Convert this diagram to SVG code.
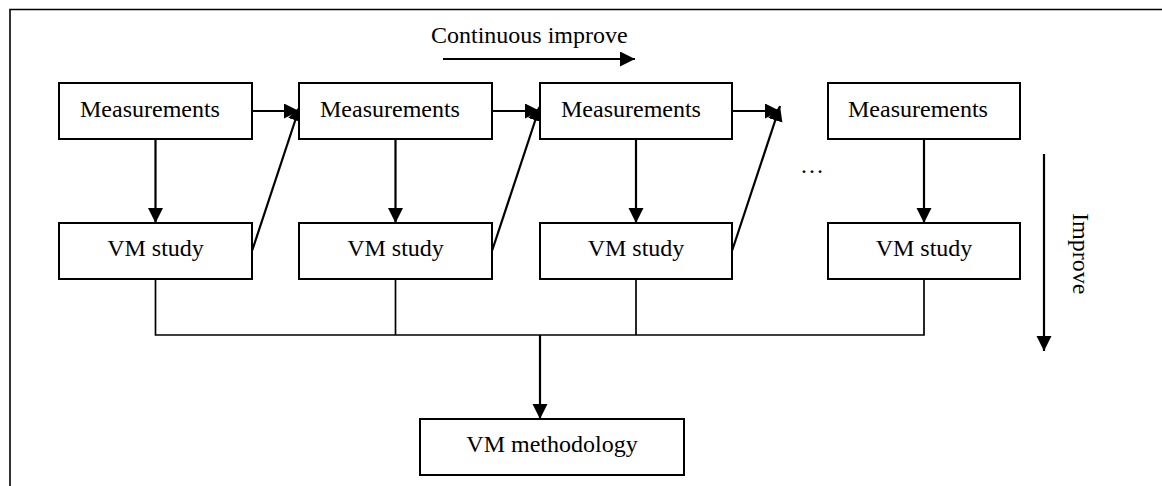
<svg xmlns="http://www.w3.org/2000/svg" width="1162" height="486" viewBox="0 0 1162 486">
  <style>
    .box { fill: #fff; stroke: #000; stroke-width: 2; }
    .lbl { font-family: "Liberation Serif", "Times New Roman", serif; font-size: 24px; fill: #000; }
    .mid { text-anchor: middle; }
    .arrow { fill: none; stroke: #000; stroke-width: 2.2; marker-end: url(#head); }
    .bus { fill: none; stroke: #000; stroke-width: 1.7; }
  </style>
  <defs>
    <marker id="head" markerUnits="userSpaceOnUse" markerWidth="16" markerHeight="16" refX="15" refY="7.5" orient="auto">
      <path d="M0,0 L15,7.5 L0,15 z" fill="#000"/>
    </marker>
  </defs>
  <rect width="1162" height="486" fill="#fff"/>

  <!-- outer frame (open to the right and bottom) -->
  <path d="M1162,9.5 H10 V486" fill="none" stroke="#000" stroke-width="1.6"/>

  <!-- connectors -->
  <g id="connectors">
    <!-- measurement -> study -->
    <line class="arrow" x1="155.5" y1="139" x2="155.5" y2="223"/>
    <line class="arrow" x1="395.5" y1="139" x2="395.5" y2="223"/>
    <line class="arrow" x1="636" y1="139" x2="636" y2="223"/>
    <line class="arrow" x1="924" y1="139" x2="924" y2="223"/>
    <!-- measurement -> next measurement -->
    <line class="arrow" x1="252" y1="111" x2="299" y2="111"/>
    <line class="arrow" x1="492" y1="111" x2="540" y2="111"/>
    <line class="arrow" x1="732" y1="111" x2="780" y2="111"/>
    <!-- study -> next measurement -->
    <line class="arrow" x1="252" y1="251" x2="300" y2="106"/>
    <line class="arrow" x1="492" y1="251" x2="540" y2="106"/>
    <line class="arrow" x1="732" y1="251" x2="780" y2="106"/>
    <!-- studies joined into the methodology -->
    <path class="bus" d="M155.5,279 V335 H924 V279"/>
    <line class="bus" x1="395.5" y1="279" x2="395.5" y2="335"/>
    <line class="bus" x1="636" y1="279" x2="636" y2="335"/>
    <line class="arrow" x1="540" y1="335" x2="540" y2="419"/>
    <!-- direction indicators -->
    <line class="arrow" x1="443" y1="59" x2="635" y2="59"/>
    <line class="arrow" x1="1044" y1="154" x2="1044" y2="351"/>
  </g>

  <text class="lbl" x="431" y="43">Continuous improve</text>
  <text class="lbl" x="800" y="173">…</text>
  <text class="lbl" transform="translate(1073,213) rotate(90)">Improve</text>

  <g id="meas1"><rect class="box" x="59" y="83" width="193" height="56"/><text class="lbl" x="80" y="117">Measurements</text></g>
  <g id="meas2"><rect class="box" x="299" y="83" width="193" height="56"/><text class="lbl" x="320" y="117">Measurements</text></g>
  <g id="meas3"><rect class="box" x="540" y="83" width="192" height="56"/><text class="lbl" x="561" y="117">Measurements</text></g>
  <g id="meas4"><rect class="box" x="828" y="83" width="192" height="56"/><text class="lbl" x="848" y="117">Measurements</text></g>

  <g id="study1"><rect class="box" x="59" y="223" width="193" height="56"/><text class="lbl mid" x="155.5" y="256">VM study</text></g>
  <g id="study2"><rect class="box" x="299" y="223" width="193" height="56"/><text class="lbl mid" x="395.5" y="256">VM study</text></g>
  <g id="study3"><rect class="box" x="540" y="223" width="192" height="56"/><text class="lbl mid" x="636" y="256">VM study</text></g>
  <g id="study4"><rect class="box" x="828" y="223" width="192" height="56"/><text class="lbl mid" x="924" y="256">VM study</text></g>

  <g id="methodology"><rect class="box" x="420" y="419" width="264" height="56"/><text class="lbl mid" x="552" y="452">VM methodology</text></g>
</svg>
